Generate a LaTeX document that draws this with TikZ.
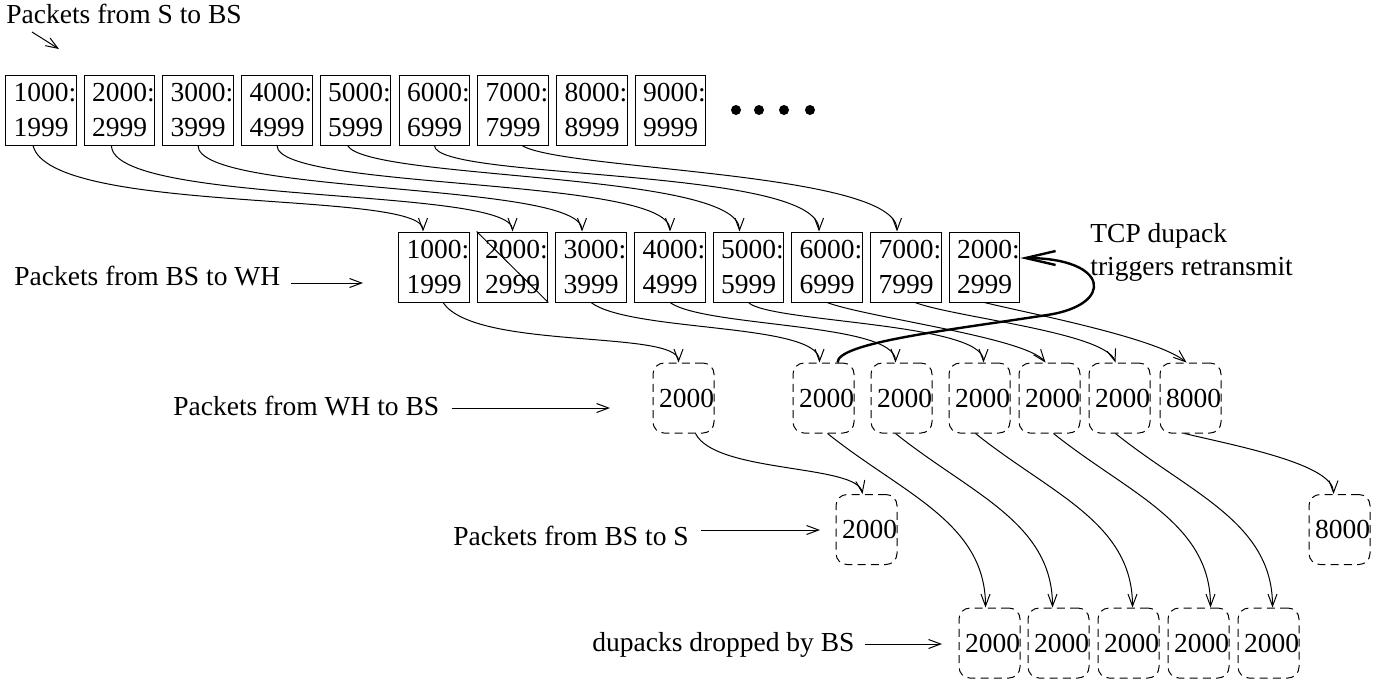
\documentclass[tikz,border=0pt]{standalone}
\usepackage{fontspec}
\setmainfont{Liberation Serif}
\usetikzlibrary{arrows.meta}

% two-line sequence range inside a packet box
\newcommand{\segtext}[2]{\hspace*{4pt}#1:\\\hspace*{4pt}#2}

\tikzset{
  seg/.style={draw, line width=0.5pt, minimum width=35pt, minimum height=35pt, inner sep=0pt, align=left},
  ack/.style={draw, line width=0.5pt, dash pattern=on 4pt off 2.6pt, rounded corners=5.5pt,
    minimum width=30.5pt, minimum height=35pt, inner sep=0pt, execute at begin node={\hspace*{3pt}}},
  flow/.style={-{Straight Barb[length=6pt,width=4.5pt]}, line width=0.5pt},
  retx/.style={-{Straight Barb[length=15pt,width=7pt]}, line width=1.2pt},
  lbl/.style={anchor=base west, inner sep=0pt},
}

\begin{document}
\begin{tikzpicture}[x=0.5pt, y=-0.5pt,
  every node/.style={font=\fontsize{13.75pt}{17.5pt}\selectfont}]
\useasboundingbox (0,0) rectangle (1377,682);

% packets from S to BS
\node[seg] (src1) at (41,110) {\segtext{1000}{1999}};
\node[seg] (src2) at (119.5,110) {\segtext{2000}{2999}};
\node[seg] (src3) at (198,110) {\segtext{3000}{3999}};
\node[seg] (src4) at (277,110) {\segtext{4000}{4999}};
\node[seg] (src5) at (355.5,110) {\segtext{5000}{5999}};
\node[seg] (src6) at (434.5,110) {\segtext{6000}{6999}};
\node[seg] (src7) at (513,110) {\segtext{7000}{7999}};
\node[seg] (src8) at (592,110) {\segtext{8000}{8999}};
\node[seg] (src9) at (670.5,110) {\segtext{9000}{9999}};
\fill (736,110) circle[radius=2.5pt] (759,110) circle[radius=2.5pt]
      (784,110) circle[radius=2.5pt] (810,110) circle[radius=2.5pt];

% packets from BS to WH
\node[seg] (bs1) at (434,267) {\segtext{1000}{1999}};
\node[seg] (bs2) at (512.5,267) {\segtext{2000}{2999}};
\node[seg] (bs3) at (591,267) {\segtext{3000}{3999}};
\node[seg] (bs4) at (670,267) {\segtext{4000}{4999}};
\node[seg] (bs5) at (748.5,267) {\segtext{5000}{5999}};
\node[seg] (bs6) at (827,267) {\segtext{6000}{6999}};
\node[seg] (bs7) at (906,267) {\segtext{7000}{7999}};
\node[seg] (bs8) at (984.5,267) {\segtext{2000}{2999}};
\draw[line width=0.5pt] (bs2.north west) -- (bs2.south east);

% acks from WH to BS
\node[ack] (ack0) at (683.5,398) {2000};
\node[ack] (ack1) at (823.5,398) {2000};
\node[ack] (ack2) at (901.5,398) {2000};
\node[ack] (ack3) at (979.5,398) {2000};
\node[ack] (ack4) at (1049.5,398) {2000};
\node[ack] (ack5) at (1119.5,398) {2000};
\node[ack] (ack6) at (1190.5,398) {8000};

% acks from BS to S
\node[ack] (fwd1) at (866.5,529.5) {2000};
\node[ack] (fwd2) at (1339.5,529.5) {8000};

% dupacks dropped
\node[ack] (drop1) at (989.5,643) {2000};
\node[ack] (drop2) at (1058.5,643) {2000};
\node[ack] (drop3) at (1128.5,643) {2000};
\node[ack] (drop4) at (1198.5,643) {2000};
\node[ack] (drop5) at (1268.5,643) {2000};

% labels
\node[lbl] (lblS) at (6,23) {Packets from S to BS};
\node[lbl] (lblWH) at (14,285) {Packets from BS to WH};
\node[lbl] (lblWB) at (173,415) {Packets from WH to BS};
\node[lbl] (lblBS) at (453,545) {Packets from BS to S};
\node[lbl] (lblDrop) at (592,651) {dupacks dropped by BS};
\node[anchor=north west, inner sep=0pt, align=left] (lblTCP) at (1090,223)
  {TCP dupack\\[-1pt]triggers retransmit};

\coordinate (tailS) at (32,32);
\coordinate (tipS) at (59,49);
\coordinate (tipWH) at (363,283);
\coordinate (tipWB) at (610,408);
\coordinate (tipBS) at (820,530);
\coordinate (tipDrop) at (942,644);
\draw[flow] (tailS) -- (tipS);
\draw[flow] ([shift={(10,-2)}]lblWH.base east) -- (tipWH);
\draw[flow] ([shift={(12,-7)}]lblWB.base east) -- (tipWB);
\draw[flow] ([shift={(12,-15)}]lblBS.base east) -- (tipBS);
\draw[flow] ([shift={(10,-7)}]lblDrop.base east) -- (tipDrop);

% S -> BS -> WH
\draw[flow] ([xshift=-4pt]src1.south) .. controls +(17,70) and +(0,-42) .. ([xshift=-5.5pt]bs1.north);
\draw[flow] ([xshift=-4pt]src2.south) .. controls +(0,60) and +(0,-45) .. (bs2.north);
\draw[flow] (src3.south) .. controls +(0,50) and +(0,-50) .. ([xshift=-4.5pt]bs3.north);
\draw[flow] (src4.south) .. controls +(0,45) and +(0,-55) .. (bs4.north);
\draw[flow] ([xshift=-4pt]src5.south) .. controls +(20,35) and +(0,-60) .. ([xshift=-4.5pt]bs5.north);
\draw[flow] (src6.south) .. controls +(0,35) and +(0,-65) .. ([xshift=-4pt]bs6.north);
\draw[flow] ([xshift=4.5pt]src7.south) .. controls +(40,25) and +(0,-60) .. ([xshift=-4.5pt]bs7.north);

% WH -> BS
\draw[flow] ([xshift=4.5pt]bs1.south) .. controls +(32,48) and +(0,-33) .. ([xshift=-2.5pt]ack0.north);
\draw[flow] (bs3.south) .. controls +(40,30) and +(0,-40) .. ([xshift=-2pt]ack1.north);
\draw[flow] (bs4.south) .. controls +(35,25) and +(0,-40) .. ([xshift=-3pt]ack2.north);
\draw[flow] (bs5.south) .. controls +(20,20) and +(0,-40) .. ([xshift=2pt]ack3.north);
\draw[flow] (bs6.south) .. controls +(40,15) and +(-20,-25) .. ([xshift=-2pt]ack4.north);
\draw[flow] ([xshift=4.5pt]bs7.south) .. controls +(40,15) and +(-10,-30) .. ([xshift=-2pt]ack5.north);
\draw[flow] (bs8.south) .. controls +(40,10) and +(-30,-25) .. ([xshift=-2pt]ack6.north);

% BS -> S and dropped
\draw[flow] ([xshift=6pt]ack0.south) .. controls +(20,40) and +(-5,-30) .. ([xshift=-2pt]fwd1.north);
\draw[flow] ([xshift=2pt]ack1.south) .. controls +(75,60) and +(0,-85) .. ([xshift=-2pt]drop1.north);
\draw[flow] ([xshift=-3pt]ack2.south) .. controls +(75,60) and +(0,-85) .. ([xshift=-3pt]drop2.north);
\draw[flow] ([xshift=-2pt]ack3.south) .. controls +(75,60) and +(0,-85) .. ([xshift=2pt]drop3.north);
\draw[flow] ([xshift=2pt]ack4.south) .. controls +(75,60) and +(0,-85) .. ([xshift=6pt]drop4.north);
\draw[flow] ([xshift=-2pt]ack5.south) .. controls +(75,60) and +(0,-85) .. ([xshift=2pt]drop5.north);
\draw[flow] ([xshift=-3pt]ack6.south) .. controls +(50,12) and +(0,-30) .. ([xshift=-3pt]fwd2.north);

% dupack triggers retransmit
\draw[retx] ([xshift=7pt]ack1.north) .. controls +(0,-20) and (950,330) .. (1047,315)
  .. controls (1115,305) and (1110,258) .. ([yshift=4.5pt]bs8.east);
\end{tikzpicture}
\end{document}
